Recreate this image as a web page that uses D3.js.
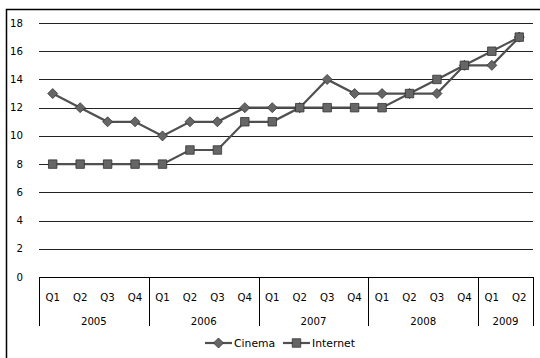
<!DOCTYPE html>
<html>
<head>
<meta charset="utf-8">
<script src="https://cdn.jsdelivr.net/npm/d3@7"></script>
<style>
  html, body { margin: 0; padding: 0; background: #fff; }
  svg { display: block; }
  text { font-family: "DejaVu Sans", Verdana, sans-serif; fill: #000; }
</style>
</head>
<body>
<svg id="chart" width="540" height="358"></svg>
<script>
// Quarterly index values, 2005 Q1 – 2009 Q2
const years = ["2005", "2006", "2007", "2008", "2009"];
const quartersPerYear = [4, 4, 4, 4, 2];
const quarterLabels = ["Q1", "Q2", "Q3", "Q4"];
const cinema   = [13, 12, 11, 11, 10, 11, 11, 12, 12, 12, 14, 13, 13, 13, 13, 15, 15, 17];
const internet = [ 8,  8,  8,  8,  8,  9,  9, 11, 11, 12, 12, 12, 12, 13, 14, 15, 16, 17];
const yTicks = [0, 2, 4, 6, 8, 10, 12, 14, 16, 18];

// Flatten year/quarter into a list of categories
const categories = [];
years.forEach((yr, i) => {
  for (let q = 0; q < quartersPerYear[i]; q++) categories.push({ year: yr, q: quarterLabels[q], key: yr + "-" + quarterLabels[q] });
});

const svg = d3.select("#chart");
const plotLeft = 39, plotRight = 533, plotTop = 23, plotBottom = 277;
const fontSize = 10.2;

// Outer frame
svg.append("rect")
  .attr("x", 6.5).attr("y", 9.5).attr("width", 560).attr("height", 380)
  .attr("fill", "none").attr("stroke", "#000").attr("stroke-width", 1.5);

const x = d3.scaleBand().domain(categories.map(d => d.key)).range([plotLeft, plotRight]).padding(0);
const y = d3.scaleLinear().domain([0, 18]).range([plotBottom, plotTop]);

// Horizontal gridlines
svg.append("g").selectAll("line").data(yTicks.filter(t => t > 0)).join("line")
  .attr("x1", plotLeft).attr("x2", plotRight)
  .attr("y1", d => Math.round(y(d)) + 0.5).attr("y2", d => Math.round(y(d)) + 0.5)
  .attr("stroke", "#222").attr("stroke-width", 1);

// Y axis labels
svg.append("g").selectAll("text").data(yTicks).join("text")
  .attr("x", 23).attr("y", d => y(d)).attr("dy", "0.35em")
  .attr("text-anchor", "end").attr("font-size", fontSize)
  .text(d => d);

// Category axis: baseline, year separators, labels
const axisG = svg.append("g");
axisG.append("line")
  .attr("x1", plotLeft).attr("x2", plotRight)
  .attr("y1", plotBottom + 0.5).attr("y2", plotBottom + 0.5)
  .attr("stroke", "#000");

let idx = 0;
const bounds = [x(categories[0].key)];
years.forEach((yr, i) => {
  idx += quartersPerYear[i];
  const last = categories[idx - 1].key;
  bounds.push(x(last) + x.bandwidth());
});
axisG.selectAll("line.sep").data(bounds).join("line")
  .attr("class", "sep")
  .attr("x1", d => Math.round(d) + 0.5).attr("x2", d => Math.round(d) + 0.5)
  .attr("y1", plotBottom).attr("y2", 326)
  .attr("stroke", "#000");

axisG.selectAll("text.q").data(categories).join("text")
  .attr("class", "q")
  .attr("x", d => x(d.key) + x.bandwidth() / 2)
  .attr("y", 297).attr("dy", "0.35em")
  .attr("text-anchor", "middle").attr("font-size", fontSize)
  .text(d => d.q);

axisG.selectAll("text.yr").data(years).join("text")
  .attr("class", "yr")
  .attr("x", (d, i) => (bounds[i] + bounds[i + 1]) / 2)
  .attr("y", 321).attr("dy", "0.35em")
  .attr("text-anchor", "middle").attr("font-size", fontSize)
  .text(d => d);

// Series
const cx = i => x(categories[i].key) + x.bandwidth() / 2;
const line = d3.line().x((d, i) => cx(i)).y(d => y(d));
const lineColor = "#505050";
const markFill = "#666";
const markStroke = "#333";

// Rhombus marker (equal width and height) and square marker
const diamond = "M0,-5L5,0L0,5L-5,0Z";
const square = d3.symbol().type(d3.symbolSquare).size(72)();

function drawSeries(values, sym) {
  svg.append("path").datum(values)
    .attr("d", line).attr("fill", "none")
    .attr("stroke", lineColor).attr("stroke-width", 2.2);
  svg.append("g").selectAll("path").data(values).join("path")
    .attr("d", sym)
    .attr("transform", (d, i) => `translate(${cx(i)},${y(d)})`)
    .attr("fill", markFill).attr("stroke", markStroke).attr("stroke-width", 0.8);
}
drawSeries(cinema, diamond);
drawSeries(internet, square);

// Legend
const legend = svg.append("g").attr("transform", "translate(0,343)");
const items = [
  { name: "Cinema", sym: diamond, x0: 205 },
  { name: "Internet", sym: square, x0: 283 }
];
items.forEach(it => {
  legend.append("line").attr("x1", it.x0).attr("x2", it.x0 + 27)
    .attr("y1", 0).attr("y2", 0).attr("stroke", lineColor).attr("stroke-width", 2.2);
  legend.append("path").attr("d", it.sym)
    .attr("transform", `translate(${it.x0 + 13.5},0)`)
    .attr("fill", markFill).attr("stroke", markStroke).attr("stroke-width", 0.8);
  legend.append("text").attr("x", it.x0 + 29).attr("y", 0).attr("dy", "0.35em")
    .attr("font-size", fontSize + 0.6).text(it.name);
});
</script>
</body>
</html>
